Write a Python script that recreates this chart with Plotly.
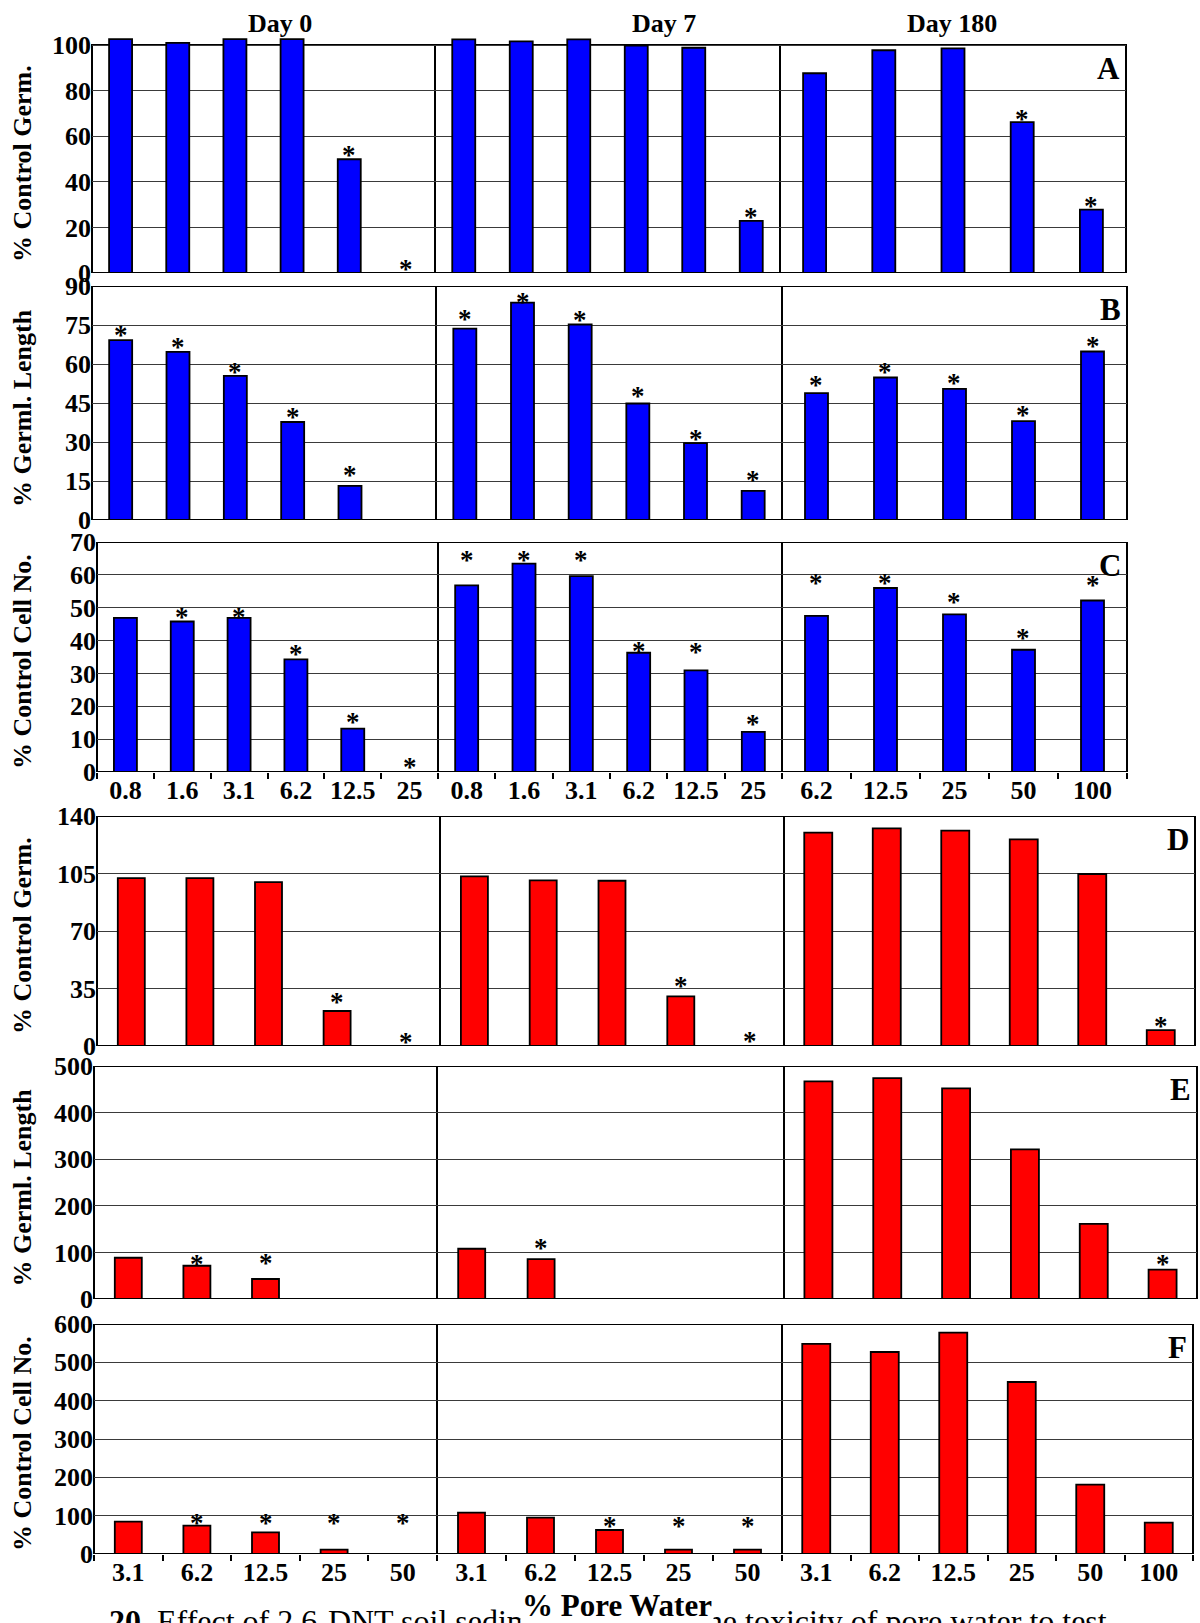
import plotly.graph_objects as go

# ---- concentrations (% pore water) ----
conc_early_top = ["0.8", "1.6", "3.1", "6.2", "12.5", "25"]
conc_late_top = ["6.2", "12.5", "25", "50", "100"]
conc_early_bot = ["3.1", "6.2", "12.5", "25", "50"]
conc_late_bot = ["3.1", "6.2", "12.5", "25", "50", "100"]

day_titles = ["Day 0", "Day 7", "Day 180"]

# ---- A: % control germination (blue) ----
a_day0 = [102.6, 100.9, 102.6, 102.6, 49.9, 0]
a_day7 = [102.5, 101.6, 102.5, 99.7, 98.8, 22.9]
a_day180 = [87.6, 97.7, 98.5, 66.2, 27.8]
a_star0 = [None, None, None, None, 52.5, 2.8]
a_star7 = [None, None, None, None, None, 25.4]
a_star180 = [None, None, None, 68.6, 30.3]

# ---- B: % germling length (blue) ----
b_day0 = [69.2, 64.7, 55.4, 37.7, 13.1, None]
b_day7 = [73.6, 83.6, 75.2, 44.8, 29.6, 11.2]
b_day180 = [48.8, 54.8, 50.4, 38.0, 64.8]
b_star0 = [71.8, 67.3, 57.7, 40.4, 18.0, None]
b_star7 = [78.0, 84.8, 77.6, 48.4, 32.0, 16.0]
b_star180 = [52.8, 57.6, 53.6, 41.2, 67.6]

# ---- C: % control cell number (blue) ----
c_day0 = [46.9, 45.8, 46.9, 34.3, 13.2, 0]
c_day7 = [56.8, 63.4, 59.6, 36.3, 30.9, 12.2]
c_day180 = [47.5, 56.0, 48.0, 37.2, 52.2]
c_star0 = [None, 47.9, 47.9, 36.4, 15.9, 2.2]
c_star7 = [65.0, 65.0, 65.0, 37.5, 37.2, 15.1]
c_star180 = [58.0, 58.0, 52.4, 41.3, 57.5]

# ---- D: % control germination (red) ----
d_day0 = [102.2, 102.2, 99.8, 21.3, 0]
d_day7 = [103.3, 100.8, 100.6, 30.2, 0]
d_day180 = [129.9, 132.5, 131.1, 125.8, 104.7, 9.7]
d_star0 = [None, None, None, 27.8, 3.5]
d_star7 = [None, None, None, 37.8, 4.4]
d_star180 = [None, None, None, None, None, 13.6]

# ---- E: % germling length (red) ----
e_day0 = [88.5, 71.4, 42.9, None, None]
e_day7 = [107.8, 85.7, None, None, None]
e_day180 = [467, 474, 452, 321, 161, 63]
e_star0 = [None, 80, 82, None, None]
e_star7 = [None, 114, None, None, None]
e_star180 = [None, None, None, None, None, 79]

# ---- F: % control cell number (red) ----
f_day0 = [84.3, 73.9, 56.5, 11.3, 0]
f_day7 = [107.8, 94.8, 62.6, 11.3, 11.3]
f_day180 = [547.9, 527.0, 577.4, 448.7, 180.8, 81.7]
f_star0 = [None, 85, 85, 85, 85]
f_star7 = [None, None, 78, 78, 78]
f_star180 = [None, None, None, None, None, None]

caption = ("<b>20.</b> Effect of 2,6-DNT soil sediment aging on the toxicity of "
           "pore water to test")

W, H = 1200, 1623
FONT = "Liberation Serif, Times New Roman, serif"
BLUE = "#0000FF"
RED = "#FF0000"

# panel rows: letter, y-title, ymax, dtick, frame top/bottom (px), headroom px, colour,
# show x labels, per-column (left, right) px, bar width px
rows = [
    dict(letter="A", title="% Control Germ.", ymax=100, dtick=20, top=45, bot=273, head=12,
         color=BLUE, xlab=False,
         cols=[(92, 435), (435, 780), (780, 1126)], barpx=[23, 23, 23],
         cats=[conc_early_top, conc_early_top, conc_late_top],
         vals=[a_day0, a_day7, a_day180], stars=[a_star0, a_star7, a_star180]),
    dict(letter="B", title="% Germl. Length", ymax=90, dtick=15, top=286, bot=520, head=0,
         color=BLUE, xlab=False,
         cols=[(92, 436), (436, 782), (782, 1127)], barpx=[23, 23, 23],
         cats=[conc_early_top, conc_early_top, conc_late_top],
         vals=[b_day0, b_day7, b_day180], stars=[b_star0, b_star7, b_star180]),
    dict(letter="C", title="% Control Cell No.", ymax=70, dtick=10, top=542, bot=772, head=0,
         color=BLUE, xlab=True,
         cols=[(97, 438), (438, 782), (782, 1127)], barpx=[23, 23, 23],
         cats=[conc_early_top, conc_early_top, conc_late_top],
         vals=[c_day0, c_day7, c_day180], stars=[c_star0, c_star7, c_star180]),
    dict(letter="D", title="% Control Germ.", ymax=140, dtick=35, top=816, bot=1046, head=0,
         color=RED, xlab=False,
         cols=[(97, 440), (440, 784), (784, 1195)], barpx=[27, 27, 28],
         cats=[conc_early_bot, conc_early_bot, conc_late_bot],
         vals=[d_day0, d_day7, d_day180], stars=[d_star0, d_star7, d_star180]),
    dict(letter="E", title="% Germl. Length", ymax=500, dtick=100, top=1066, bot=1299, head=0,
         color=RED, xlab=False,
         cols=[(94, 437), (437, 784), (784, 1197)], barpx=[27, 27, 28],
         cats=[conc_early_bot, conc_early_bot, conc_late_bot],
         vals=[e_day0, e_day7, e_day180], stars=[e_star0, e_star7, e_star180]),
    dict(letter="F", title="% Control Cell No.", ymax=600, dtick=100, top=1324, bot=1554, head=0,
         color=RED, xlab=True,
         cols=[(94, 437), (437, 782), (782, 1193)], barpx=[27, 27, 28],
         cats=[conc_early_bot, conc_early_bot, conc_late_bot],
         vals=[f_day0, f_day7, f_day180], stars=[f_star0, f_star7, f_star180]),
]

fig = go.Figure()
layout = {}
shapes = []
annotations = []


def px_x(v):
    return v / W


def px_y(v):
    return 1 - v / H


n = 0
for r in rows:
    frame_h = r["bot"] - r["top"]
    y_top_range = r["ymax"] * (frame_h + r["head"]) / frame_h
    for ci in range(3):
        n += 1
        xa = "x" if n == 1 else f"x{n}"
        ya = "y" if n == 1 else f"y{n}"
        xkey = "xaxis" if n == 1 else f"xaxis{n}"
        ykey = "yaxis" if n == 1 else f"yaxis{n}"
        left, right = r["cols"][ci]
        cats = r["cats"][ci]
        cat_px = (right - left) / len(cats)
        bw = r["barpx"][ci] / cat_px

        fig.add_trace(go.Bar(
            x=cats, y=r["vals"][ci], xaxis=xa, yaxis=ya, width=bw,
            marker=dict(color=r["color"], line=dict(color="black", width=1.8)),
            showlegend=False, hoverinfo="x+y",
        ))

        layout[xkey] = dict(
            domain=[px_x(left), px_x(right)], anchor=ya, type="category",
            categoryorder="array", categoryarray=cats, automargin=False,
            range=[-0.5, len(cats) - 0.5], showgrid=False, zeroline=False,
            showline=False,
            showticklabels=r["xlab"],
            ticks="outside" if r["xlab"] else "", tickson="boundaries",
            ticklen=6, tickwidth=1.5, tickcolor="black",
            tickfont=dict(family=FONT, size=26, color="black", weight="bold"),
        )
        layout[ykey] = dict(
            domain=[px_y(r["bot"]), px_y(r["top"] - r["head"])], anchor=xa,
            range=[0, y_top_range], tick0=0, automargin=False,
            tickvals=list(range(0, r["ymax"] + 1, r["dtick"])),
            showgrid=True, gridcolor="#3a3a3a", gridwidth=1, zeroline=False,
            showline=False, ticks="",
            showticklabels=(ci == 0),
            tickfont=dict(family=FONT, size=26, color="black", weight="bold"),
        )

        # panel frame
        shapes.append(dict(
            type="rect", xref=f"{xa} domain", yref=ya, x0=0, x1=1, y0=0, y1=r["ymax"],
            line=dict(color="black", width=2), layer="below",
        ))

        # significance asterisks (x given as category index)
        for k, sy in enumerate(r["stars"][ci]):
            if sy is None:
                continue
            annotations.append(dict(
                x=k, y=sy, xref=xa, yref=ya, text="*", showarrow=False,
                yanchor="middle", yshift=-2,
                font=dict(family=FONT, size=27, color="black", weight="bold"),
            ))

    # y-axis title
    annotations.append(dict(
        x=px_x(22), y=px_y((r["top"] + r["bot"]) / 2 + 5), xref="paper", yref="paper",
        text=r["title"], textangle=-90, showarrow=False,
        xanchor="center", yanchor="middle",
        font=dict(family=FONT, size=26, color="black", weight="bold"),
    ))
    # panel letter
    rl = r["cols"][2][1]
    annotations.append(dict(
        x=px_x(rl - 4), y=px_y(r["top"] + 4), xref="paper", yref="paper",
        text=r["letter"], showarrow=False, xanchor="right", yanchor="top",
        font=dict(family=FONT, size=31, color="black", weight="bold"),
    ))

# day headings
for t, cx in zip(day_titles, [280, 664, 952]):
    annotations.append(dict(
        x=px_x(cx), y=px_y(24), xref="paper", yref="paper", text=t, showarrow=False,
        xanchor="center", yanchor="middle",
        font=dict(family=FONT, size=26, color="black", weight="bold"),
    ))

# figure caption running off the bottom edge
annotations.append(dict(
    x=px_x(107), y=px_y(1601), xref="paper", yref="paper", text=caption,
    showarrow=False, xanchor="left", yanchor="top",
    font=dict(family=FONT, size=32, color="black"),
))

# x-axis title, drawn over the caption
annotations.append(dict(
    x=px_x(617), y=px_y(1605), xref="paper", yref="paper", text="% Pore Water",
    showarrow=False, xanchor="center", yanchor="middle", bgcolor="white",
    font=dict(family=FONT, size=31, color="black", weight="bold"),
))

fig.update_layout(
    width=W, height=H, margin=dict(l=0, r=0, t=0, b=0),
    paper_bgcolor="white", plot_bgcolor="white",
    shapes=shapes, annotations=annotations, **layout,
)

fig.write_html("out.html")
